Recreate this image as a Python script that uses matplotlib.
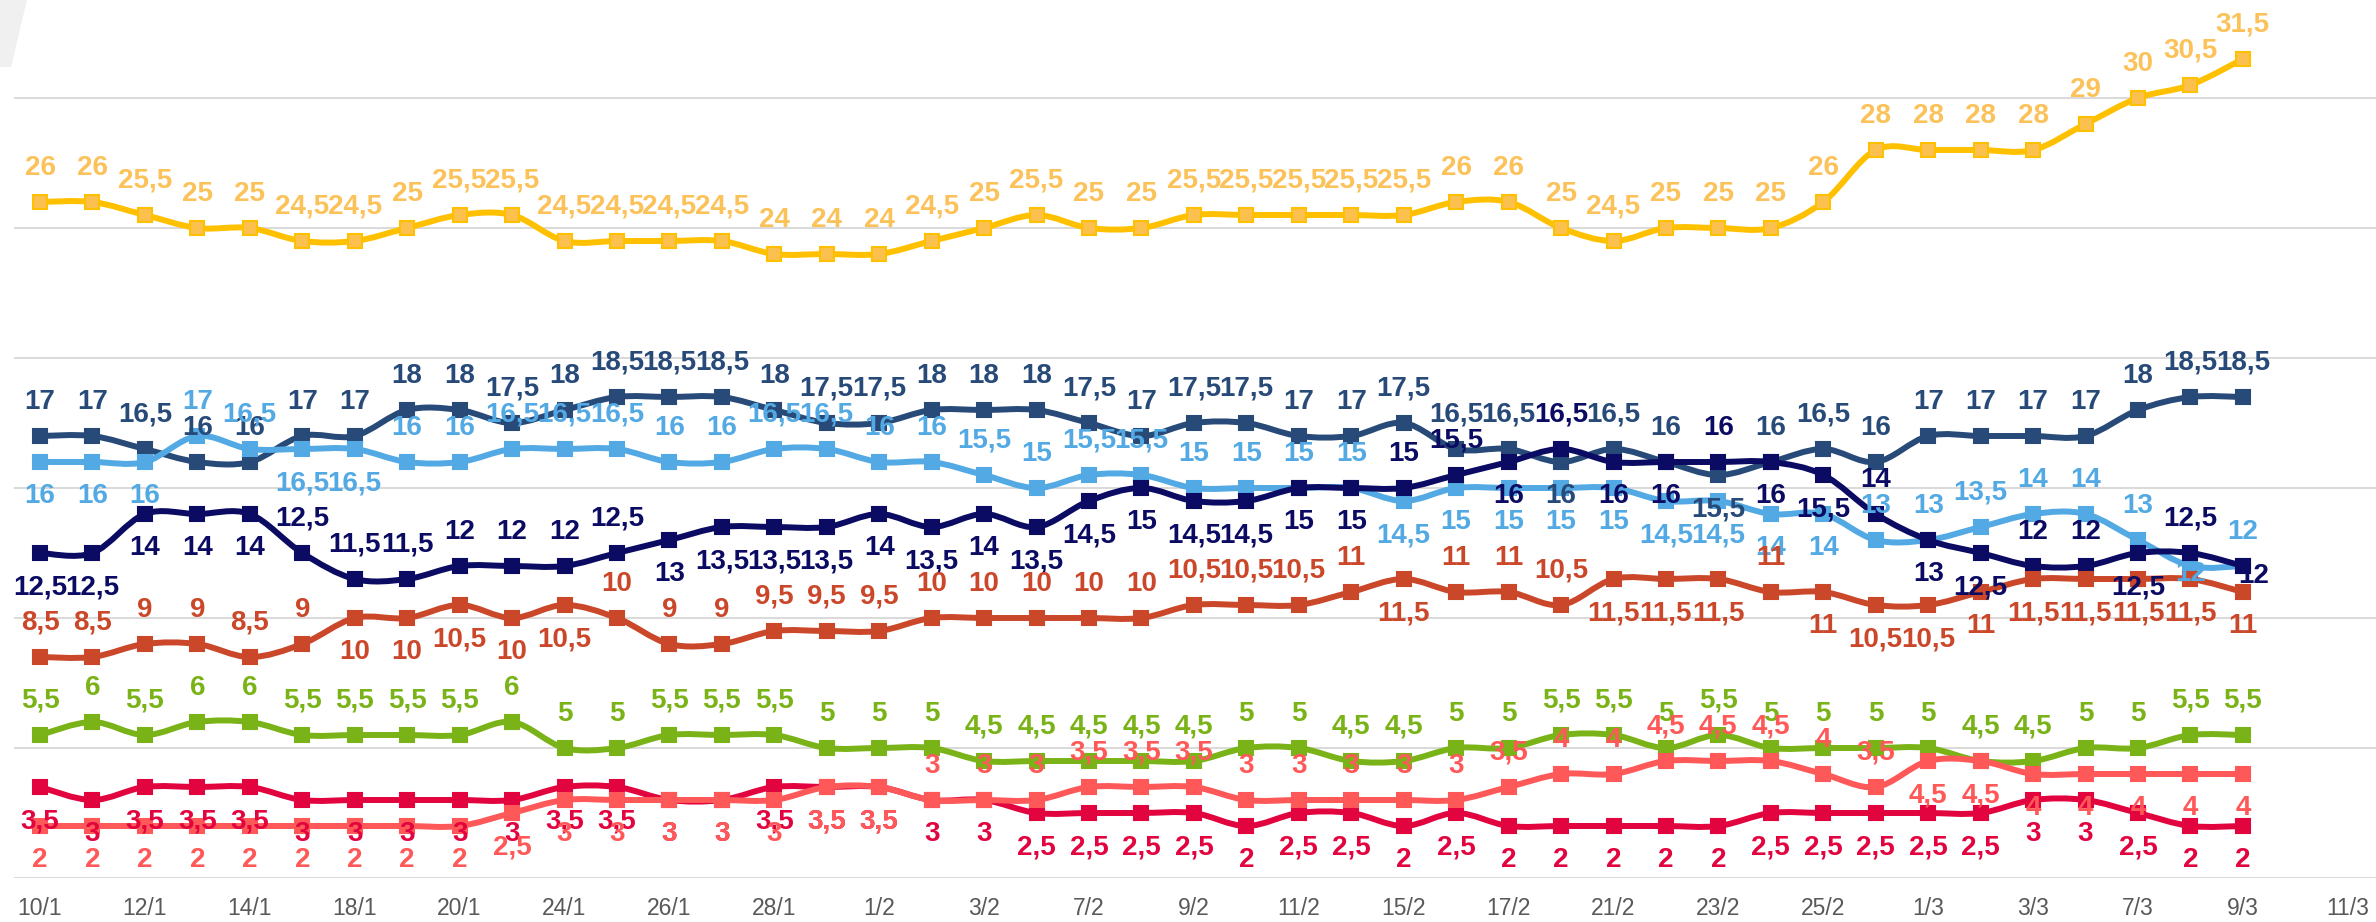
import numpy as np
import matplotlib
matplotlib.use("Agg")
import matplotlib.pyplot as plt
from matplotlib.path import Path
from matplotlib.patches import PathPatch, Polygon

# ---------------- data ----------------
tick_labels = ["10/1", "12/1", "14/1", "18/1", "20/1", "24/1", "26/1", "28/1",
               "1/2", "3/2", "7/2", "9/2", "11/2", "15/2", "17/2", "21/2",
               "23/2", "25/2", "1/3", "3/3", "7/3", "9/3", "11/3"]

yellow = [26, 26, 25.5, 25, 25, 24.5, 24.5, 25, 25.5, 25.5, 24.5, 24.5, 24.5, 24.5, 24,
          24, 24, 24.5, 25, 25.5, 25, 25, 25.5, 25.5, 25.5, 25.5, 25.5, 26, 26, 25,
          24.5, 25, 25, 25, 26, 28, 28, 28, 28, 29, 30, 30.5, 31.5]
slate = [17, 17, 16.5, 16, 16, 17, 17, 18, 18, 17.5, 18, 18.5, 18.5, 18.5, 18,
         17.5, 17.5, 18, 18, 18, 17.5, 17, 17.5, 17.5, 17, 17, 17.5, 16.5, 16.5, 16,
         16.5, 16, 15.5, 16, 16.5, 16, 17, 17, 17, 17, 18, 18.5, 18.5]
lightblue = [16, 16, 16, 17, 16.5, 16.5, 16.5, 16, 16, 16.5, 16.5, 16.5, 16, 16, 16.5,
             16.5, 16, 16, 15.5, 15, 15.5, 15.5, 15, 15, 15, 15, 14.5, 15, 15, 15,
             15, 14.5, 14.5, 14, 14, 13, 13, 13.5, 14, 14, 13, 12, 12]
navy = [12.5, 12.5, 14, 14, 14, 12.5, 11.5, 11.5, 12, 12, 12, 12.5, 13, 13.5, 13.5,
        13.5, 14, 13.5, 14, 13.5, 14.5, 15, 14.5, 14.5, 15, 15, 15, 15.5, 16, 16.5,
        16, 16, 16, 16, 15.5, 14, 13, 12.5, 12, 12, 12.5, 12.5, 12]
orange = [8.5, 8.5, 9, 9, 8.5, 9, 10, 10, 10.5, 10, 10.5, 10, 9, 9, 9.5,
          9.5, 9.5, 10, 10, 10, 10, 10, 10.5, 10.5, 10.5, 11, 11.5, 11, 11, 10.5,
          11.5, 11.5, 11.5, 11, 11, 10.5, 10.5, 11, 11.5, 11.5, 11.5, 11.5, 11]
green = [5.5, 6, 5.5, 6, 6, 5.5, 5.5, 5.5, 5.5, 6, 5, 5, 5.5, 5.5, 5.5,
         5, 5, 5, 4.5, 4.5, 4.5, 4.5, 4.5, 5, 5, 4.5, 4.5, 5, 5, 5.5,
         5.5, 5, 5.5, 5, 5, 5, 5, 4.5, 4.5, 5, 5, 5.5, 5.5]
crimson = [3.5, 3, 3.5, 3.5, 3.5, 3, 3, 3, 3, 3, 3.5, 3.5, 3, 3, 3.5,
           3.5, 3.5, 3, 3, 2.5, 2.5, 2.5, 2.5, 2, 2.5, 2.5, 2, 2.5, 2, 2,
           2, 2, 2, 2.5, 2.5, 2.5, 2.5, 2.5, 3, 3, 2.5, 2, 2]
salmon = [2, 2, 2, 2, 2, 2, 2, 2, 2, 2.5, 3, 3, 3, 3, 3,
          3.5, 3.5, 3, 3, 3, 3.5, 3.5, 3.5, 3, 3, 3, 3, 3, 3.5, 4,
          4, 4.5, 4.5, 4.5, 4, 3.5, 4.5, 4.5, 4, 4, 4, 4, 4]

# ---------------- styles (label placement per point: a=above, b=below, c=center, r=right) ----------------
styles = [
    # values, line color, marker face, label color, label placement
    (yellow, "#FFC000", "#FBC04E", "#FCC25A", "a" * 43),
    (slate, "#274A78", "#274A78", "#274A78", "a" * 29 + "b" + "aa" + "b" + "a" * 10),
    (lightblue, "#52A9E3", "#52A9E3", "#52A9E3", "bbb" + "aa" + "bb" + "a" * 19 + "b" * 9 + "a" * 6 + "c" + "a"),
    (navy, "#0B0B63", "#0B0B63", "#0B0B63", "bbbbb" + "a" * 7 + "b" * 14 + "aa" + "b" + "a" + "bb" + "a" + "bb" + "a" + "bb" + "aa" + "b" + "a" + "r"),
    (orange, "#CB472A", "#CB472A", "#CB472A", "a" * 6 + "b" * 5 + "a" * 15 + "b" + "aaa" + "bbb" + "a" + "b" * 9),
    (green, "#7AB317", "#7AB317", "#7AB317", "a" * 43),
    (crimson, "#E1043F", "#E1043F", "#E1043F", "b" * 43),
    (salmon, "#FF5858", "#FF5858", "#FF5858", "b" * 17 + "a" * 19 + "b" * 7),
]

plt.rcParams['font.family'] = ['Liberation Sans', 'DejaVu Sans']

W, H = 2376, 922
fig = plt.figure(figsize=(W / 100, H / 100), dpi=100)
ax = fig.add_axes([14 / W, 44 / H, 1 - 14 / W, 1 - 44 / H])
ax.set_xlim(-26 / 52.45, (W - 40) / 52.45)
ax.set_ylim(0, 878 / 26.0)

for s in ax.spines.values():
    s.set_visible(False)
ax.set_yticks([0, 5, 10, 15, 20, 25, 30])
ax.yaxis.grid(True, color="#D9D9D9", lw=1.4)
ax.set_axisbelow(True)
ax.tick_params(axis="y", left=False, labelleft=False)
ax.set_xticks(np.arange(0, 2 * len(tick_labels), 2))
ax.set_xticklabels(tick_labels, fontsize=16.5, color="#595959")
ax.tick_params(axis="x", length=0, pad=14)


def smooth_path(xs, ys):
    pts = np.column_stack([xs, ys]).astype(float)
    n = len(pts)
    verts = [pts[0]]
    codes = [Path.MOVETO]
    for i in range(n - 1):
        p0 = pts[i - 1] if i > 0 else pts[i]
        p1 = pts[i]
        p2 = pts[i + 1]
        p3 = pts[i + 2] if i + 2 < n else pts[i + 1]
        c1 = p1 + (p2 - p0) / 6.0
        c2 = p2 - (p3 - p1) / 6.0
        verts += [c1, c2, p2]
        codes += [Path.CURVE4] * 3
    return Path(verts, codes)


def fmt(v):
    if float(v).is_integer():
        return str(int(v))
    return ("%g" % v).replace(".", ",")


z = 3
for vals, lc, mfc, tc, pos in styles:
    x = np.arange(len(vals))
    ax.add_patch(PathPatch(smooth_path(x, vals), fill=False, edgecolor=lc, lw=4.3,
                           capstyle="round", joinstyle="round", zorder=z))
    ax.plot(x, vals, ls="none", marker="s", ms=10.5, mfc=mfc, mec=lc, mew=1.5, zorder=z + 0.5)
    z += 1

for vals, lc, mfc, tc, pos in styles:
    for i, v in enumerate(vals):
        p = pos[i]
        if p == "a":
            off = (0, 24.5)
        elif p == "b":
            off = (0, -24.5)
        elif p == "c":
            off = (0, -6)
        else:
            off = (8, -7)
        ax.annotate(fmt(v), (i, v), xytext=off, textcoords="offset points",
                    ha="center", va="center", fontsize=20, fontweight="bold",
                    color=tc, zorder=20)

# light gray corner shape of the original screenshot
fig.patches.append(Polygon([(0, 1), (27 / W, 1), (11 / W, 1 - 67 / H), (0, 1 - 67 / H)],
                           closed=True, transform=fig.transFigure, facecolor="#F0F0F0",
                           edgecolor="none", zorder=0))

fig.savefig("out.png", dpi=100, facecolor="white")
